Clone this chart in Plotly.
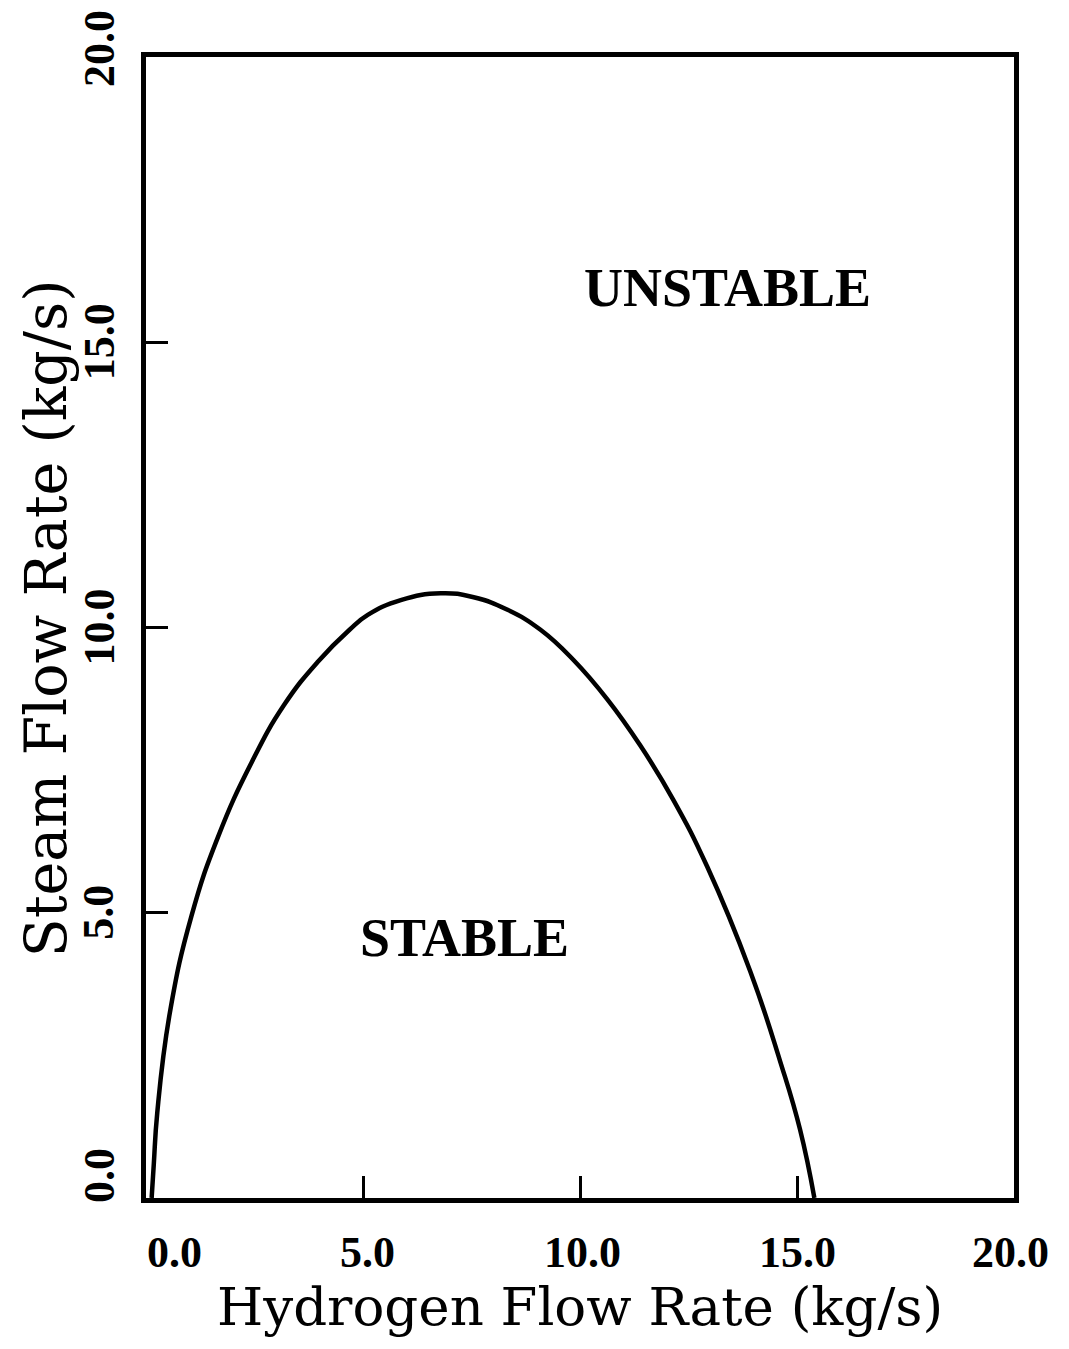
import plotly.graph_objects as go

# Stability boundary
hydrogen = [0.13, 0.18, 0.26, 0.55, 1.05, 1.66, 2.43, 3.18, 3.96, 4.69, 5.11, 5.87, 6.79,
            7.55, 8.33, 9.09, 9.85, 10.63, 11.39, 12.15, 12.93, 13.92, 14.61, 15.07, 15.40]
steam = [0.0, 0.60, 1.50, 3.25, 4.95, 6.33, 7.63, 8.64, 9.40, 9.96, 10.22, 10.48, 10.60,
         10.53, 10.31, 9.96, 9.43, 8.74, 7.93, 6.98, 5.81, 3.98, 2.40, 1.20, 0.0]

tick_vals = [0, 5, 10, 15, 20]
tick_text = ["0.0", "5.0", "10.0", "15.0", "20.0"]
x_label_shift = [28, 4, 2, 0, -4]
y_label_shift = [22, 0, 0, 0, 8]

region_labels = ["UNSTABLE", "STABLE"]
region_x = [13.4, 7.35]
region_y = [15.95, 4.55]

x_title = "Hydrogen Flow Rate (kg/s)"
y_title = "Steam Flow Rate (kg/s)"

fig = go.Figure()
fig.add_trace(go.Scatter(x=hydrogen, y=steam, mode="lines",
                         line=dict(color="black", width=4.5, shape="spline", smoothing=1.3,
                                   simplify=False),
                         showlegend=False, hoverinfo="skip"))

axis_common = dict(range=[0, 20], showgrid=False, zeroline=False,
                   showline=True, linecolor="black", linewidth=5, mirror=True,
                   ticks="inside", ticklen=22, tickwidth=2.5, tickcolor="black",
                   tickvals=[5, 10, 15], showticklabels=False)
fig.update_xaxes(**axis_common)
fig.update_yaxes(**axis_common)

ann = []
tick_font = dict(family="Liberation Serif", size=44, color="black")
for v, t, s in zip(tick_vals, tick_text, x_label_shift):
    ann.append(dict(x=v, y=0, xref="x", yref="y", text="<b>%s</b>" % t, showarrow=False,
                    xshift=s, yshift=-54, font=tick_font, xanchor="center", yanchor="middle"))
for v, t, s in zip(tick_vals, tick_text, y_label_shift):
    ann.append(dict(x=0, y=v, xref="x", yref="y", text="<b>%s</b>" % t, showarrow=False,
                    xshift=-47, yshift=s, textangle=-90, font=tick_font,
                    xanchor="center", yanchor="middle"))
for t, x, y in zip(region_labels, region_x, region_y):
    ann.append(dict(x=x, y=y, xref="x", yref="y", text="<b>%s</b>" % t, showarrow=False,
                    font=dict(family="Liberation Serif", size=54, color="black"),
                    xanchor="center", yanchor="middle"))
ann.append(dict(x=0.5, y=0, xref="paper", yref="paper", text=x_title, showarrow=False,
                yshift=-108, font=dict(family="DejaVu Serif", size=53, color="black"),
                xanchor="center", yanchor="middle"))
ann.append(dict(x=0, y=0.508, xref="paper", yref="paper", text=y_title, showarrow=False,
                xshift=-100, textangle=-90,
                font=dict(family="DejaVu Serif", size=57, color="black"),
                xanchor="center", yanchor="middle"))

fig.update_layout(width=1069, height=1349,
                  margin=dict(l=146, r=55, t=57, b=151),
                  plot_bgcolor="white", paper_bgcolor="white",
                  annotations=ann)

fig.write_html("out.html")
